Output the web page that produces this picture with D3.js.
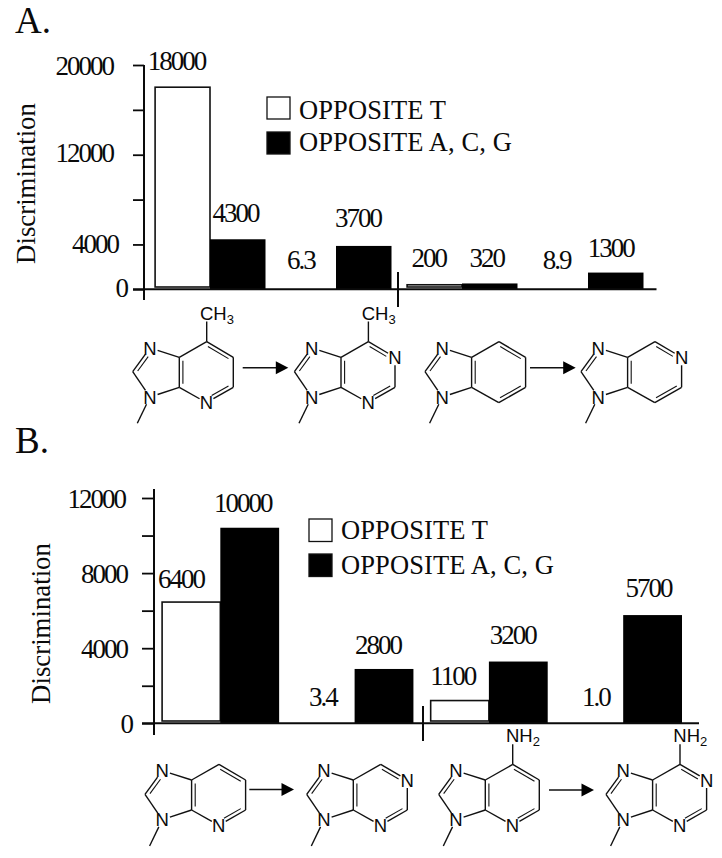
<!DOCTYPE html>
<html>
<head>
<meta charset="utf-8">
<script src="https://cdn.jsdelivr.net/npm/d3@7/dist/d3.min.js"></script>
<style>
html,body{margin:0;padding:0;background:#fff}
svg{display:block}
</style>
</head>
<body>
<svg id="chart" width="722" height="858"></svg>
<script>
// ---- data ----
const seriesNames = ["OPPOSITE T", "OPPOSITE A, C, G"];
const groupsA = ["7-methyl-1-deaza", "6-methyl purine", "benzimidazole", "5-aza"];
const oppositeT_A = [18000, 6.3, 200, 8.9];
const oppositeACG_A = [4300, 3700, 320, 1300];
const textT_A = ["18000", "6.3", "200", "8.9"];
const textACG_A = ["4300", "3700", "320", "1300"];
const ticksA = [0, 4000, 8000, 12000, 16000, 20000];
const tickLabelsA = [0, 4000, 12000, 20000];

const groupsB = ["1-deazapurine", "purine", "1-deazaadenine", "adenine"];
const oppositeT_B = [6400, 3.4, 1100, 1.0];
const oppositeACG_B = [10400, 2800, 3200, 5700];
const textT_B = ["6400", "3.4", "1100", "1.0"];
const textACG_B = ["10000", "2800", "3200", "5700"];
const ticksB = [0, 2000, 4000, 6000, 8000, 10000, 12000];
const tickLabelsB = [0, 4000, 8000, 12000];

// ---- layout ----
const serif = "'Liberation Serif','Times New Roman',serif";
const sans = "'Liberation Sans',Arial,sans-serif";
const ink = "#0a0a0a";
const svg = d3.select("#chart");

const layoutA = {
  letter: "A.", letterY: 33,
  axisX: 144, tickLeft: 133, axisTopExt: 65, axisBottomExt: 300, zeroY: 289.3, barZeroY: 287, topY: 65,
  xEnd: 656.5, xRange: [154.5, 643.5], padInner: 0.119, max: 20000,
  breakX: 398, breakY: [272, 307],
  titleX: 34.5, titleCy: 183.5,
  legendBox: [267, 97, 23, 22], legendStep: 35, legendTextX: 299, legendBase: [119.3, 151.3],
  tickEnd: { 0: 127, 4000: 118, 12000: 113, 20000: 113 }, tickBase: { 0: 7.5, 4000: 8, 12000: 7, 20000: 9 },
  labelDx: [-5.75, -2.25, -7.25, -5.75, -5.5, -3, -3.5, -5],
  labelGap: [17.2, 17.6, 18, 19.2, 17.5, 16.1, 18, 15.9]
};
const layoutB = {
  letter: "B.", letterY: 453,
  axisX: 154, tickLeft: 142, axisTopExt: 489, axisBottomExt: 735, zeroY: 723.3, barZeroY: 721, topY: 498,
  xEnd: 699, xRange: [161.5, 682], padInner: 0.124, max: 12000,
  breakX: 423, breakY: [706, 741],
  titleX: 49.5, titleCy: 623.5,
  legendBox: [309, 519, 23, 22.5], legendStep: 35, legendTextX: 341, legendBase: [539, 574],
  tickEnd: { 0: 132, 4000: 127, 8000: 127, 12000: 125 }, tickBase: { 0: 9, 4000: 9, 8000: 9, 12000: 9 },
  labelDx: [-10, -7, -2.3, -6, -6.8, -5.5, 2, -4],
  labelGap: [14.3, 15.4, 15, 14.7, 15.6, 17.2, 15, 17.7]
};

function drawPanel(L, groups, tVals, cVals, tText, cText, ticks, tickLabels) {
  const g = svg.append("g");
  const yAxisScale = d3.scaleLinear().domain([0, L.max]).range([L.zeroY, L.topY]);
  const yBar = d3.scaleLinear().domain([0, L.max]).range([L.barZeroY, L.topY]);
  const x0 = d3.scaleBand().domain(groups).range(L.xRange).paddingInner(L.padInner).paddingOuter(0);
  const x1 = d3.scaleBand().domain(seriesNames).range([0, x0.bandwidth()]);

  const rows = groups.flatMap((grp, i) => [
    { grp, s: seriesNames[0], v: tVals[i], t: tText[i], k: i * 2 },
    { grp, s: seriesNames[1], v: cVals[i], t: cText[i], k: i * 2 + 1 }
  ]);

  // bars (values that round to no height leave an empty slot, as in the figure)
  g.append("g").selectAll("rect")
    .data(rows.filter(d => yBar(0) - yBar(d.v) >= 1))
    .join("rect")
    .attr("x", d => x0(d.grp) + x1(d.s) + (d.s === seriesNames[0] ? 0.6 : 0))
    .attr("width", d => x1.bandwidth() - (d.s === seriesNames[0] ? 0.6 : 0))
    .attr("y", d => yBar(d.v))
    .attr("height", d => (d.s === seriesNames[0] ? yBar(0) : L.zeroY) - yBar(d.v))
    .attr("fill", d => d.s === seriesNames[0] ? "#fff" : "#000")
    .attr("stroke", d => d.s === seriesNames[0] ? "#111" : "none")
    .attr("stroke-width", 1.6);

  // value labels
  g.append("g").selectAll("text")
    .data(rows)
    .join("text")
    .attr("x", d => x0(d.grp) + x1(d.s) + x1.bandwidth() / 2 + L.labelDx[d.k])
    .attr("y", d => yBar(d.v) - L.labelGap[d.k])
    .attr("text-anchor", "middle")
    .attr("font-family", serif).attr("font-size", 27).attr("letter-spacing", -2).attr("fill", ink)
    .text(d => d.t);

  // y axis
  const axis = d3.axisLeft(yAxisScale).tickValues(ticks).tickSize(L.axisX - L.tickLeft).tickSizeOuter(0)
    .tickFormat(d => tickLabels.includes(d) ? d : "");
  const ag = g.append("g").attr("transform", `translate(${L.axisX},0)`).call(axis);
  ag.select(".domain").attr("d", `M0,${L.axisTopExt}V${L.axisBottomExt}`)
    .attr("stroke", ink).attr("stroke-width", 2);
  ag.selectAll(".tick line").attr("stroke", ink).attr("stroke-width", 1.8);
  ag.selectAll(".tick text")
    .attr("x", d => (L.tickEnd[d] || 0) - L.axisX)
    .attr("dy", null)
    .attr("y", d => L.tickBase[d] || 0)
    .attr("text-anchor", "end")
    .attr("font-family", serif).attr("font-size", 27).attr("letter-spacing", -2).attr("fill", ink);

  // x axis line and break mark
  g.append("line").attr("x1", L.tickLeft).attr("x2", L.xEnd).attr("y1", L.zeroY).attr("y2", L.zeroY)
    .attr("stroke", ink).attr("stroke-width", 2);
  g.append("line").attr("x1", L.breakX).attr("x2", L.breakX).attr("y1", L.breakY[0]).attr("y2", L.breakY[1])
    .attr("stroke", ink).attr("stroke-width", 2);

  // axis title and panel letter
  g.append("text").attr("transform", `translate(${L.titleX},${L.titleCy}) rotate(-90)`)
    .attr("text-anchor", "middle").attr("font-family", serif).attr("font-size", 26.8).attr("fill", ink)
    .text("Discrimination");
  g.append("text").attr("x", 15).attr("y", L.letterY)
    .attr("font-family", serif).attr("font-size", 37).attr("fill", ink).text(L.letter);

  // legend
  const lg = g.append("g");
  seriesNames.forEach((name, i) => {
    lg.append("rect").attr("x", L.legendBox[0]).attr("y", L.legendBox[1] + i * L.legendStep)
      .attr("width", L.legendBox[2]).attr("height", L.legendBox[3])
      .attr("fill", i ? "#000" : "#fff").attr("stroke", "#111").attr("stroke-width", 1.3);
    lg.append("text").attr("x", L.legendTextX).attr("y", L.legendBase[i])
      .attr("font-family", serif).attr("font-size", 26.5).attr("letter-spacing", 0.1).attr("fill", ink).text(name);
  });
}

drawPanel(layoutA, groupsA, oppositeT_A, oppositeACG_A, textT_A, textACG_A, ticksA, tickLabelsA);
drawPanel(layoutB, groupsB, oppositeT_B, oppositeACG_B, textT_B, textACG_B, ticksB, tickLabelsB);

// ---- structural formulae (one fused-ring skeleton, shifted) ----
const skeleton = {
  NT: [30, 68], C2: [12.7, 91.7], NB: [30, 117], JB: [59.3, 107.3], JT: [59.3, 77.3],
  TC: [86.7, 61.7], R1: [113.3, 77.3], R2: [113.3, 107.3], BN: [86.5, 122.7],
  ME: [17.3, 143.3], SUB: [86.7, 41.5]
};
const singleBonds = [["NT","JT"],["NT","C2"],["C2","NB"],["NB","JB"],["JB","JT"],["JT","TC"],["TC","R1"],["R1","R2"],["R2","BN"],["BN","JB"],["NB","ME"]];
const doubleBonds = [["NT","C2",["NT","C2","NB","JB","JT"]],["JT","JB",["JT","TC","R1","R2","BN","JB"]],["TC","R1",["JT","TC","R1","R2","BN","JB"]],["R2","BN",["JT","TC","R1","R2","BN","JB"]]];
const molecules = [
  { at: [120, 280],     n: ["NT","NB","BN"],      sub: "CH3" },
  { at: [281.7, 280],   n: ["NT","NB","BN","R1"], sub: "CH3" },
  { at: [412.3, 280],   n: ["NT","NB"],           sub: null },
  { at: [568.3, 280],   n: ["NT","NB","R1"],      sub: null },
  { at: [132.3, 702.7], n: ["NT","NB","BN"],      sub: null },
  { at: [294, 702.7],   n: ["NT","NB","BN","R1"], sub: null },
  { at: [426, 702.7],   n: ["NT","NB","BN"],      sub: "NH2" },
  { at: [593.3, 702.7], n: ["NT","NB","BN","R1"], sub: "NH2" }
];
const arrows = [[242.7, 288.3, 367.7], [530, 575.7, 367.7], [249.3, 294, 789.5], [549, 594, 790]];

function trimmed(a, b, ta, tb) {
  const dx = b[0] - a[0], dy = b[1] - a[1], len = Math.hypot(dx, dy);
  return [a[0] + dx / len * ta, a[1] + dy / len * ta, b[0] - dx / len * tb, b[1] - dy / len * tb];
}
const bondLine = d3.line();
molecules.forEach(m => {
  const g = svg.append("g").attr("transform", `translate(${m.at[0]},${m.at[1]})`)
    .attr("stroke", "#111").attr("stroke-width", 1.4).attr("fill", "none");
  const gap = k => m.n.includes(k) ? 8 : 0;
  singleBonds.forEach(([a, b]) => {
    const t = trimmed(skeleton[a], skeleton[b], gap(a), gap(b));
    g.append("path").attr("d", bondLine([[t[0], t[1]], [t[2], t[3]]]));
  });
  doubleBonds.forEach(([a, b, ring]) => {
    const cx = d3.mean(ring, k => skeleton[k][0]), cy = d3.mean(ring, k => skeleton[k][1]);
    const p = skeleton[a], q = skeleton[b];
    const dx = q[0] - p[0], dy = q[1] - p[1], len = Math.hypot(dx, dy);
    let nx = -dy / len, ny = dx / len;
    if ((cx - p[0]) * nx + (cy - p[1]) * ny < 0) { nx = -nx; ny = -ny; }
    const t = trimmed(p, q, Math.max(gap(a), 3.5), Math.max(gap(b), 3.5));
    g.append("path").attr("stroke-width", 1.1).attr("d", bondLine([[t[0] + nx * 3.6, t[1] + ny * 3.6], [t[2] + nx * 3.6, t[3] + ny * 3.6]]));
  });
  m.n.forEach(k => {
    g.append("text").attr("x", skeleton[k][0]).attr("y", skeleton[k][1] + 6.6)
      .attr("text-anchor", "middle").attr("font-family", sans).attr("font-size", 18.5)
      .attr("fill", ink).attr("stroke", "none").text("N");
  });
  if (m.sub) {
    g.append("path").attr("d", bondLine([skeleton.TC, skeleton.SUB]));
    const label = g.append("text").attr("x", 80).attr("y", 39.5)
      .attr("font-family", sans).attr("font-size", 18.5).attr("fill", ink).attr("stroke", "none");
    label.append("tspan").text(m.sub.slice(0, 2));
    label.append("tspan").attr("dy", 4).attr("font-size", 13).text(m.sub.slice(2));
  }
});
arrows.forEach(([x1, x2, y]) => {
  svg.append("line").attr("x1", x1).attr("x2", x2 - 10).attr("y1", y).attr("y2", y)
    .attr("stroke", "#111").attr("stroke-width", 1.4);
  svg.append("path").attr("d", d3.line()([[x2 - 12.5, y - 6.5], [x2, y], [x2 - 12.5, y + 6.5]]) + "Z").attr("fill", "#000");
});
</script>
</body>
</html>
